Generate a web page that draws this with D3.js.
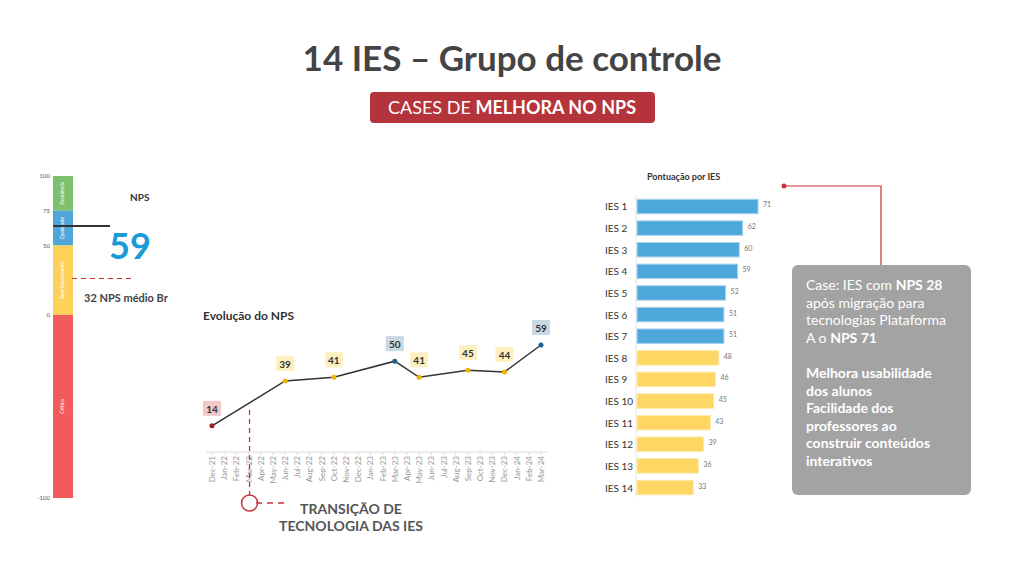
<!DOCTYPE html>
<html><head><meta charset="utf-8">
<script src="https://cdn.jsdelivr.net/npm/d3@7/dist/d3.min.js"></script>
<style>body{margin:0;background:#fff}svg{font-family:Lato,"Open Sans",sans-serif}</style>
</head><body><svg id="c" width="1024" height="571"></svg>
<script>
const gaugeBands=[{lo:75,hi:100,c:"#7cbf6c",n:"Excelência"},{lo:50,hi:75,c:"#4ea6d9",n:"Qualidade"},{lo:0,hi:50,c:"#fdd25c",n:"Aperfeiçoamento"},{lo:-100,hi:0,c:"#f25b5b",n:"Crítica"}];
const gaugeTicks=[100,75,50,0,-100];
const npsCurrent=59, npsBr=32;
const months=["Dec-21","Jan-22","Feb-22","Mar-22","Apr-22","May-22","Jun-22","Jul-22","Aug-22","Sep-22","Oct-22","Nov-22","Dec-22","Jan-23","Feb-23","Mar-23","Apr-23","May-23","Jun-23","Jul-23","Aug-23","Sep-23","Oct-23","Nov-23","Dec-23","Jan-24","Feb-24","Mar-24"];
const npsMonths=["Dec-21","Jun-22","Oct-22","Mar-23","May-23","Sep-23","Dec-23","Mar-24"];
const npsValues=[14,39,41,50,41,45,44,59];
const npsKind=["r","y","y","b","y","y","y","b"];
const ies=["IES 1","IES 2","IES 3","IES 4","IES 5","IES 6","IES 7","IES 8","IES 9","IES 10","IES 11","IES 12","IES 13","IES 14"];
const iesScores=[71,62,60,59,52,51,51,48,46,45,43,39,36,33];

const svg=d3.select("#c");
svg.append("text").attr("x",512).attr("y",71).attr("text-anchor","middle").attr("font-size",35).attr("font-weight",700).attr("fill","#444").text("14 IES – Grupo de controle");
svg.append("rect").attr("x",370).attr("y",92).attr("width",285).attr("height",31).attr("rx",4).attr("fill","#b5343c");
const st=svg.append("text").attr("x",512).attr("y",114).attr("text-anchor","middle").attr("font-size",18).attr("fill","#fff");
st.append("tspan").text("CASES DE ");st.append("tspan").attr("font-weight",700).text("MELHORA NO NPS");

// gauge
const gy=d3.scaleLinear().domain([-100,0,100]).range([498,315,176]);
const g=svg.append("g");
gaugeBands.forEach(b=>{
 g.append("rect").attr("x",53).attr("width",20).attr("y",gy(b.hi)).attr("height",gy(b.lo)-gy(b.hi)).attr("fill",b.c);
 const cy=(gy(b.hi)+gy(b.lo))/2;
 g.append("text").attr("transform",`translate(64,${cy}) rotate(-90)`).attr("text-anchor","middle").attr("font-size",5).attr("fill","#fff").text(b.n);
});
gaugeTicks.forEach(t=>g.append("text").attr("x",50).attr("y",gy(t)+2).attr("text-anchor","end").attr("font-size",6).attr("fill","#555").text(t));
g.append("line").attr("x1",53).attr("x2",110).attr("y1",gy(npsCurrent)-7).attr("y2",gy(npsCurrent)-7).attr("stroke","#333").attr("stroke-width",2);
g.append("line").attr("x1",72).attr("x2",132).attr("y1",gy(npsBr)+8).attr("y2",gy(npsBr)+8).attr("stroke","#c8323a").attr("stroke-width",1.2).attr("stroke-dasharray","5,4");
g.append("text").attr("x",130).attr("y",201).attr("font-size",10).attr("font-weight",700).attr("fill","#333").text("NPS");
g.append("text").attr("x",109).attr("y",259).attr("font-size",36).attr("font-weight",700).attr("fill","#1a9ad6").text(npsCurrent);
g.append("text").attr("x",84).attr("y",302).attr("font-size",11).attr("font-weight",700).attr("fill","#444").text(npsBr+" NPS médio Br");

// line chart
const x=d3.scalePoint().domain(months).range([212,541]);
const y=d3.scaleLinear().domain([0,59]).range([451,345]);
svg.append("text").attr("x",203).attr("y",320).attr("font-size",12).attr("font-weight",700).attr("fill","#333").text("Evolução do NPS");
svg.append("line").attr("x1",206).attr("x2",548).attr("y1",452).attr("y2",452).attr("stroke","#ddd");
months.forEach(m=>{svg.append("line").attr("x1",x(m)).attr("x2",x(m)).attr("y1",452).attr("y2",455).attr("stroke","#ddd");
 svg.append("text").attr("transform",`translate(${x(m)+3},456) rotate(-90)`).attr("text-anchor","end").attr("font-size",8).attr("fill","#999").text(m);});
const pts=npsMonths.map((m,i)=>[x(m),y(npsValues[i])]);
svg.append("path").attr("d",d3.line()(pts)).attr("fill","none").attr("stroke","#333").attr("stroke-width",1.5);
const dotC={r:"#a01c20",y:"#f0b400",b:"#1f5f8b"}, boxC={r:"#f4c7c9",y:"#fdf0c0",b:"#c8d8e4"};
pts.forEach((p,i)=>{
 svg.append("rect").attr("x",p[0]-9).attr("y",p[1]-25).attr("width",18).attr("height",15).attr("fill",boxC[npsKind[i]]);
 svg.append("text").attr("x",p[0]).attr("y",p[1]-13).attr("text-anchor","middle").attr("font-size",10).attr("font-weight",700).attr("fill","#333").text(npsValues[i]);
 svg.append("circle").attr("cx",p[0]).attr("cy",p[1]).attr("r",2.5).attr("fill",dotC[npsKind[i]]);
});
const tx=x("Mar-22")+1;
svg.append("line").attr("x1",tx).attr("x2",tx).attr("y1",410).attr("y2",495).attr("stroke","#c8323a").attr("stroke-width",1.3).attr("stroke-dasharray","5,4");
svg.append("circle").attr("cx",tx).attr("cy",503).attr("r",8).attr("fill","none").attr("stroke","#c8323a").attr("stroke-width",1.5);
svg.append("line").attr("x1",256).attr("x2",284).attr("y1",503).attr("y2",503).attr("stroke","#c8323a").attr("stroke-width",1.3).attr("stroke-dasharray","6,5");
svg.append("text").attr("x",351).attr("y",514).attr("text-anchor","middle").attr("font-size",14).attr("font-weight",700).attr("fill","#555").text("TRANSIÇÃO DE");
svg.append("text").attr("x",351).attr("y",531).attr("text-anchor","middle").attr("font-size",14).attr("font-weight",700).attr("fill","#555").text("TECNOLOGIA DAS IES");

// bar chart
const bx=d3.scaleLinear().domain([0,71]).range([637,758]);
const by=d3.scaleBand().domain(ies).range([196,498]).paddingInner(0.33).paddingOuter(0.15);
svg.append("text").attr("x",647).attr("y",180).attr("font-size",9).attr("font-weight",700).attr("fill","#333").text("Pontuação por IES");
svg.append("line").attr("x1",636).attr("x2",636).attr("y1",196).attr("y2",497).attr("stroke","#e6e6e6");
ies.forEach((n,i)=>{
 const blue=i<7;
 svg.append("rect").attr("x",bx(0)).attr("y",by(n)).attr("width",bx(iesScores[i])-bx(0)).attr("height",by.bandwidth()).attr("fill",blue?"#4fa8dc":"#fdd663").attr("stroke",blue?"#a9d4ee":"#fde9a8").attr("stroke-width",1);
 svg.append("text").attr("x",605).attr("y",by(n)+by.bandwidth()/2+4).attr("font-size",10).attr("fill","#333").text(n);
 svg.append("text").attr("x",bx(iesScores[i])+5).attr("y",by(n)+by.bandwidth()/2+1).attr("font-size",7).attr("fill","#777").text(iesScores[i]);
});
svg.append("circle").attr("cx",784).attr("cy",186).attr("r",2.5).attr("fill","#c8323a");
svg.append("path").attr("d","M784,186H881V265").attr("fill","none").attr("stroke","#c8323a").attr("stroke-width",1.2);
svg.append("rect").attr("x",792).attr("y",265).attr("width",179).attr("height",230).attr("rx",6).attr("fill","#a3a3a3");
const lines=[[["Case: IES com ",0],["NPS 28",1]],[["após migração para",0]],[["tecnologias Plataforma",0]],[["A o ",0],["NPS 71",1]],[],[["Melhora usabilidade",1]],[["dos alunos",1]],[["Facilidade dos",1]],[["professores ao",1]],[["construir conteúdos",1]],[["interativos",1]]];
lines.forEach((l,i)=>{const t=svg.append("text").attr("x",806).attr("y",290+i*17.6).attr("font-size",14).attr("fill","#fff");
 l.forEach(s=>t.append("tspan").attr("font-weight",s[1]?700:400).text(s[0]));});
</script></body></html>
